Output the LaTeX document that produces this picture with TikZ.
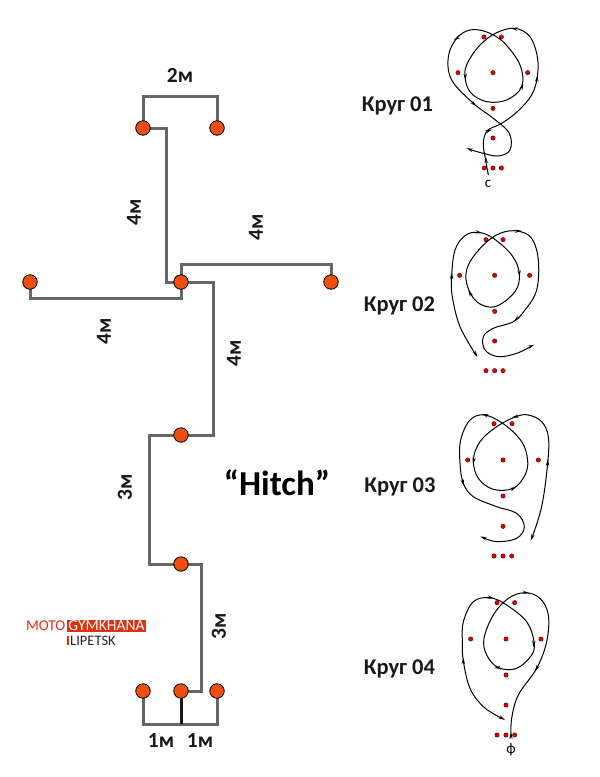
\documentclass[tikz,border=0pt]{standalone}
\usepackage{fontspec}
\setmainfont{Carlito}
\begin{document}
\begin{tikzpicture}[x=1pt,y=-1pt,
  cone/.style={circle,draw=black,line width=.8pt,fill=coneorange,minimum size=14.5pt,inner sep=0pt},
  gate/.style={draw=linegray,line width=3pt,line join=miter},
  dim/.style={font=\bfseries\fontsize{21.5}{21.5}\selectfont,text=black!90,inner sep=0pt},
  circlelabel/.style={font=\bfseries\fontsize{22.5}{22.5}\selectfont,text=black!90,inner sep=0pt},
  detail/.style 2 args={shift={(#1,#2)},x=.33333pt,y=-.33333pt},
  dotmark/.style={circle,draw=black!70!red,line width=.4pt,fill=red!90!black,minimum size=4.4pt,inner sep=0pt},
  route/.style={draw=black,line width=1pt},
  tiny/.style={font=\fontsize{15}{15}\selectfont,inner sep=0pt}]
\definecolor{coneorange}{HTML}{F04E0F}
\definecolor{linegray}{HTML}{666666}
\definecolor{logored}{HTML}{E0300F}
\newcommand{\tipmark}[3]{\fill[black] (#1,#2) +(#3:10) -- +(#3+152:11) -- +(#3+180:3) -- +(#3-152:11) -- cycle;}
\useasboundingbox (0,0) rectangle (600,777);

% cone positions
\coordinate (p1) at (143,128);  \coordinate (p2) at (217,128);
\coordinate (p3) at (30,282);   \coordinate (p4) at (181,282);
\coordinate (p5) at (331,282);  \coordinate (p6) at (181,435);
\coordinate (p7) at (181,564);  \coordinate (p8) at (143,691);
\coordinate (p9) at (181,691);  \coordinate (p10) at (217,691);

% measuring lines between cones
\draw[gate] (p1) -- ++(0,-32) -| (p2);
\draw[gate] (p1) -- ++(23,0) |- (p4);
\draw[gate] (p4) -- ++(0,-18) -| (p5);
\draw[gate] (p3) -- ++(0,16) -| (p4);
\draw[gate] (p4) -- ++(32,0) |- (p6);
\draw[gate] (p6) -- ++(-32,0) |- (p7);
\draw[gate] (p7) -- ++(20,0) |- (p9);
\draw[gate] (p8) -- ++(0,33) -| (p10);
\draw[line width=3pt,black!90] (p9) -- ++(0,33);

\foreach \p/\n in {p1/c1,p2/c2,p3/c3,p4/c4,p5/c5,p6/c6,p7/c7,p8/c8,p9/c9,p10/c10}
  \node[cone] (\n) at (\p) {};

% distances
\node[dim] (d1) at (180,75) {2м};
\node[dim,rotate=90] (d2) at (134,212) {4м};
\node[dim,rotate=90] (d3) at (256,227) {4м};
\node[dim,rotate=90] (d4) at (104,331) {4м};
\node[dim,rotate=90] (d5) at (234,353) {4м};
\node[dim,rotate=90] (d6) at (125,487) {3м};
\node[dim,rotate=90] (d7) at (219,626) {3м};
\node[dim] (d8) at (161,741) {1м};
\node[dim] (d9) at (200,741) {1м};

\node[font=\bfseries\fontsize{35}{35}\selectfont,inner sep=0pt] (title) at (277,483) {“Hitch”};

\node[circlelabel] (k1) at (397.5,106) {Круг 01};
\node[circlelabel] (k2) at (399.5,306) {Круг 02};
\node[circlelabel] (k3) at (400,487) {Круг 03};
\node[circlelabel] (k4) at (399.5,669) {Круг 04};

% club logo
\fill[logored] (67.3,620) rectangle (145.7,632);
\node[font=\fontsize{15}{15}\selectfont,text=logored,inner sep=0pt,anchor=east] (moto) at (65.5,626) {MOTO};
\node[font=\fontsize{15.5}{15.5}\selectfont,text=white,inner sep=0pt] (gym) at (106.5,626) {GYMKHANA};
\fill[logored] (67,636) rectangle (68.6,645);
\node[font=\fontsize{14.5}{14.5}\selectfont,text=black!85,inner sep=0pt,anchor=west] (lip) at (70,640.5) {LIPETSK};

% Круг 01
\begin{scope}[detail={430}{20}]
\foreach \x/\y [count=\i] in {162/51,214/51,84/158,189/158,293/158,189/265,189/354,163/444,189/444,214/444}
  \node[dotmark] (a\i) at (\x,\y) {};
\draw[route] plot[smooth,tension=.6] coordinates {(175,465) (166,415) (160,370) (172,332) (215,310) (262,275) (305,225) (322,170) (322,110) (300,50) (255,25) (200,38) (150,75) (112,130) (105,172) (122,218) (170,245) (230,240) (275,200) (270,135) (222,68) (170,36) (120,30) (80,55) (55,110) (65,180) (130,250) (190,295) (238,340) (240,390) (205,408) (160,400) (118,388)};
\tipmark{168}{420}{-95}\tipmark{176}{332}{-20}\tipmark{321}{176}{-85}\tipmark{253}{26}{190}
\tipmark{106}{170}{85}\tipmark{276}{200}{-70}\tipmark{80}{55}{150}\tipmark{132}{252}{40}\tipmark{119}{388}{200}
\node[tiny] (sc) at (174,491) {с};
\end{scope}

% Круг 02
\begin{scope}[detail={430}{220}]
\foreach \x/\y [count=\i] in {168/59,219/59,89/166,194/166,299/166,194/274,194/363,168/452,194/452,219/452}
  \node[dotmark] (b\i) at (\x,\y) {};
\draw[route] plot[smooth,tension=.6] coordinates {(138,405) (90,320) (67,230) (65,168) (75,90) (105,47) (145,37) (190,55) (245,105) (268,160) (255,215) (195,260) (140,245) (110,190) (115,135) (160,75) (210,40) (262,33) (305,55) (325,120) (320,210) (285,270) (250,305) (190,325) (160,350) (165,390) (205,410) (260,400) (305,378)};
\tipmark{65}{168}{-90}\tipmark{146}{37}{10}\tipmark{268}{160}{85}\tipmark{120}{220}{-120}\tipmark{264}{33}{-5}\tipmark{260}{296}{135}\tipmark{304}{378}{-25}\tipmark{137}{402}{60}
\end{scope}

% Круг 03
\begin{scope}[detail={430}{400}]
\foreach \x/\y [count=\i] in {192/71,246/71,113/180,219/180,325/180,219/288,219/379,192/468,219/468,245/468}
  \node[dotmark] (e\i) at (\x,\y) {};
\draw[route] plot[smooth,tension=.6] coordinates {(305,415) (335,320) (353,190) (355,110) (335,65) (295,45) (258,50) (200,80) (150,125) (130,180) (145,235) (190,268) (250,265) (285,225) (293,180) (275,125) (225,75) (165,45) (120,60) (92,120) (90,190) (100,250) (130,290) (200,320) (260,340) (283,380) (260,415) (200,425) (160,413)};
\tipmark{353}{188}{-85}\tipmark{256}{50}{170}\tipmark{131}{182}{100}\tipmark{250}{265}{-25}\tipmark{165}{45}{195}\tipmark{99}{248}{75}\tipmark{160}{413}{200}\tipmark{306}{412}{110}
\end{scope}

% Круг 04
\begin{scope}[detail={430}{585}]
\foreach \x/\y [count=\i] in {201/53,254/53,122/162,228/162,333/162,228/270,228/360,201/450,228/450,254/450}
  \node[dotmark] (f\i) at (\x,\y) {};
\draw[route] plot[smooth,tension=.6] coordinates {(243,460) (245,400) (265,330) (320,250) (350,170) (355,90) (330,40) (285,23) (235,40) (190,90) (162,160) (170,210) (205,248) (260,250) (305,210) (312,170) (290,110) (230,60) (180,38) (130,50) (100,110) (97,170) (100,228) (120,310) (160,365) (215,400)};
\tipmark{243}{452}{-90}\tipmark{320}{250}{120}\tipmark{287}{23}{10}\tipmark{203}{248}{175}\tipmark{311}{176}{95}\tipmark{182}{38}{10}\tipmark{100}{228}{-90}\tipmark{216}{400}{30}
\node[tiny] (ph) at (243,493) {ф};
\end{scope}
\end{tikzpicture}
\end{document}
